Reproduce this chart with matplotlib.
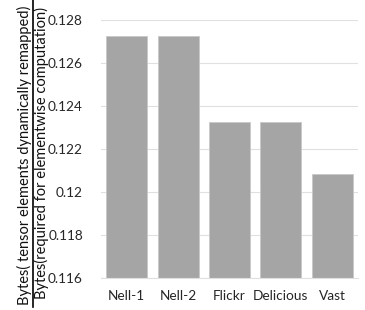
import matplotlib.pyplot as plt
from matplotlib.lines import Line2D

datasets = ["Nell-1", "Nell-2", "Flickr", "Delicious", "Vast"]
ratio = [0.12726, 0.12726, 0.12326, 0.12326, 0.12086]
yticks = [0.116, 0.118, 0.12, 0.122, 0.124, 0.126, 0.128]
ytick_labels = ["0.116", "0.118", "0.12", "0.122", "0.124", "0.126", "0.128"]

plt.rcParams["font.family"] = ["Lato", "DejaVu Sans"]

W, H = 365, 310
fig = plt.figure(figsize=(W / 100, H / 100), dpi=100)
ax = fig.add_axes([101 / W, 1 - 278 / H, 257 / W, 258 / H])

ax.bar(range(len(datasets)), ratio, width=0.8, color="#a5a5a5",
       edgecolor="#c8c8c8", linewidth=0.6, zorder=2)

ax.set_xlim(-0.5, len(datasets) - 0.5)
ax.set_ylim(0.116, 0.128)
ax.set_yticks(yticks)
ax.set_yticklabels(ytick_labels)
ax.set_xticks(range(len(datasets)))
ax.set_xticklabels(datasets)
ax.tick_params(axis="both", length=0, labelsize=9.8, colors="#262626")
ax.tick_params(axis="y", pad=13)
ax.tick_params(axis="x", pad=9)

ax.grid(axis="y", color="#e0e0e0", linewidth=0.8, zorder=0)
for s in ["top", "right", "left"]:
    ax.spines[s].set_visible(False)
ax.spines["bottom"].set_color("#e0e0e0")
ax.spines["bottom"].set_linewidth(0.8)

# fraction as y label
fig.text(24 / W, 0.5, "Bytes( tensor elements dynamically remapped)",
         rotation=90, ha="center", va="center", fontsize=10.5, color="#111111")
fig.text(41 / W, 0.505, "Bytes(required for elementwise computation)",
         rotation=90, ha="center", va="center", fontsize=10.5, color="#111111")
fig.add_artist(Line2D([32.5 / W, 32.5 / W], [0.01, 1.0], color="black",
                      linewidth=1.2, transform=fig.transFigure))

fig.savefig("out.png", dpi=100)
